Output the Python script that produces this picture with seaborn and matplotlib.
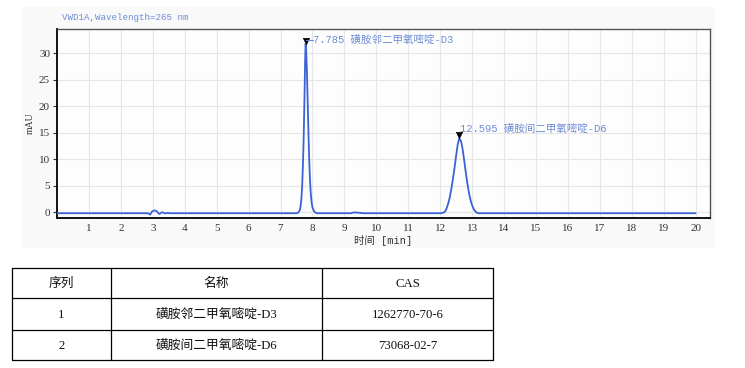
import matplotlib
matplotlib.use("Agg")
import matplotlib.pyplot as plt
import seaborn as sns
import pandas as pd
from matplotlib.patches import Rectangle

# ---------------- data ----------------
chart_title = "VWD1A,Wavelength=265 nm"
time_min = [0.0, 2.85, 2.92, 2.97, 3.05, 3.12, 3.2, 3.3, 3.38, 3.45, 3.55,
            7.5, 7.55, 7.6, 7.625, 7.65, 7.675, 7.7, 7.725, 7.75, 7.77, 7.785,
            7.8, 7.825, 7.85, 7.875, 7.9, 7.925, 7.95, 7.975, 8.0, 8.05, 8.1, 8.15,
            9.2, 9.3, 9.45, 9.6,
            12.0, 12.1, 12.15, 12.2, 12.25, 12.3, 12.35, 12.4, 12.45, 12.5, 12.55,
            12.595, 12.65, 12.7, 12.75, 12.8, 12.85, 12.9, 12.95, 13.0, 13.05,
            13.1, 13.15, 13.2, 20.0]
signal_mau = [-0.2, -0.2, -0.45, 0.1, 0.35, 0.2, -0.35, 0.0, -0.25, -0.15, -0.2,
              -0.2, -0.1, 0.3, 1.0, 2.3, 4.6, 8.5, 14.0, 21.5, 28.5, 31.8,
              31.0, 27.0, 21.0, 14.8, 9.6, 5.8, 3.3, 1.8, 0.9, 0.2, -0.1, -0.2,
              -0.2, -0.05, -0.1, -0.2,
              -0.2, -0.1, 0.1, 0.7, 1.6, 2.8, 4.4, 6.3, 8.4, 10.7, 12.8,
              13.9, 13.5, 12.0, 9.9, 7.6, 5.5, 3.7, 2.3, 1.3, 0.6,
              0.15, -0.1, -0.2, -0.2]

peak_times = [7.785, 12.595]
peak_marker_y = [32.4, 14.6]
peak_labels = ["7.785 磺胺邻二甲氧嘧啶-D3", "12.595 磺胺间二甲氧嘧啶-D6"]
peak_label_x = [8.03, 12.63]
peak_label_y = [32.5, 15.7]

x_ticks = list(range(1, 21))
y_ticks = [0, 5, 10, 15, 20, 25, 30]
x_label = "时间 [min]"
y_label = "mAU"

table_header = ["序列", "名称", "CAS"]
table_index = ["1", "2"]
table_names = ["磺胺邻二甲氧嘧啶-D3", "磺胺间二甲氧嘧啶-D6"]
table_cas = ["1262770-70-6", "73068-02-7"]

# ---------------- style ----------------
sns.set_style("white")
plt.rcParams['font.family'] = ['Liberation Serif', 'Noto Sans CJK SC', 'DejaVu Sans']

W, H = 745, 368
fig = plt.figure(figsize=(W / 100, H / 100), dpi=100)
fig.patch.set_facecolor("white")

# light panel behind chart
fig.patches.append(Rectangle((22 / W, 1 - 248 / H), (715 - 22) / W, (248 - 7) / H,
                             transform=fig.transFigure, facecolor="#f9f9f9",
                             edgecolor="none", zorder=-5))

ax = fig.add_axes([57 / W, 1 - 218 / H, (710 - 57) / W, (218 - 29) / H])
ax.set_zorder(2)
ax.set_facecolor("#fdfdfd")

line_color = "#3c63d6"
text_color = "#6e8cd6"

df = pd.DataFrame({"t": time_min, "s": signal_mau})
sns.lineplot(data=df, x="t", y="s", ax=ax, color=line_color, linewidth=1.3,
             sort=False, estimator=None, zorder=3)

mk = pd.DataFrame({"t": peak_times, "y": peak_marker_y})
sns.scatterplot(data=mk, x="t", y="y", ax=ax, marker="v", color="black",
                s=22, edgecolor="black", zorder=4)

# annotation lines and labels
ax.plot([peak_times[0], peak_label_x[0] - 0.02], [peak_label_y[0], peak_label_y[0]],
        color=text_color, linewidth=0.8, zorder=4)
for lx, ly, lab in zip(peak_label_x, peak_label_y, peak_labels):
    ax.text(lx, ly, lab, color=text_color, fontsize=7.6, va="center", ha="left",
            family=['Liberation Mono', 'Noto Sans CJK SC'], zorder=5)

ax.set_xlim(0, 20.45)
ax.set_ylim(-1.1, 34.6)
ax.set_xticks(x_ticks)
ax.set_yticks(y_ticks)
ax.grid(True, color="#e6e6e6", linewidth=0.8, zorder=0)
ax.set_axisbelow(True)
ax.tick_params(axis="both", labelsize=8, colors="#333333", length=3, width=0.8,
               pad=2)
ax.tick_params(axis="x", length=0, pad=4)
ax.tick_params(axis="y", left=True, direction="out")

for side in ["left", "bottom"]:
    ax.spines[side].set_color("#111111")
    ax.spines[side].set_linewidth(1.4)
for side in ["top", "right"]:
    ax.spines[side].set_visible(True)
    ax.spines[side].set_color("#555555")
    ax.spines[side].set_linewidth(1.0)

ax.set_xlabel("")
ax.set_ylabel("")
fig.text(383 / W, 1 - 241 / H, x_label, ha="center", va="center", fontsize=7.5,
         color="#333333", family=['Liberation Mono', 'Noto Sans CJK SC'])
fig.text(30 / W, 1 - 123 / H, y_label, ha="center", va="center", fontsize=7,
         rotation=90, color="#333333", family=['Liberation Serif'])
fig.text(62 / W, 1 - 18 / H, chart_title, ha="left", va="center", fontsize=6.6,
         color=text_color, family=['Liberation Mono'])

# ---------------- table ----------------
tax = fig.add_axes([0, 0, 1, 1])
tax.set_zorder(1)
tax.set_xlim(0, W)
tax.set_ylim(H, 0)
tax.axis("off")
tax.patch.set_alpha(0)

col_edges = [12, 111, 322, 493]
row_edges = [268, 298, 330, 360]
for y in row_edges:
    tax.plot([col_edges[0], col_edges[-1]], [y, y], color="black", linewidth=0.9)
for x in col_edges:
    tax.plot([x, x], [row_edges[0], row_edges[-1]], color="black", linewidth=0.9)

col_centers = [(col_edges[i] + col_edges[i + 1]) / 2 for i in range(3)]
row_centers = [(row_edges[i] + row_edges[i + 1]) / 2 for i in range(3)]
rows = [table_header] + [[a, b, c] for a, b, c in zip(table_index, table_names, table_cas)]
for r, row in enumerate(rows):
    for c, txt in enumerate(row):
        tax.text(col_centers[c], row_centers[r] + 1, txt, ha="center", va="center",
                 fontsize=9.2, color="#111111",
                 family=['Liberation Serif', 'Noto Sans CJK SC'])

fig.savefig("out.png", dpi=100)
